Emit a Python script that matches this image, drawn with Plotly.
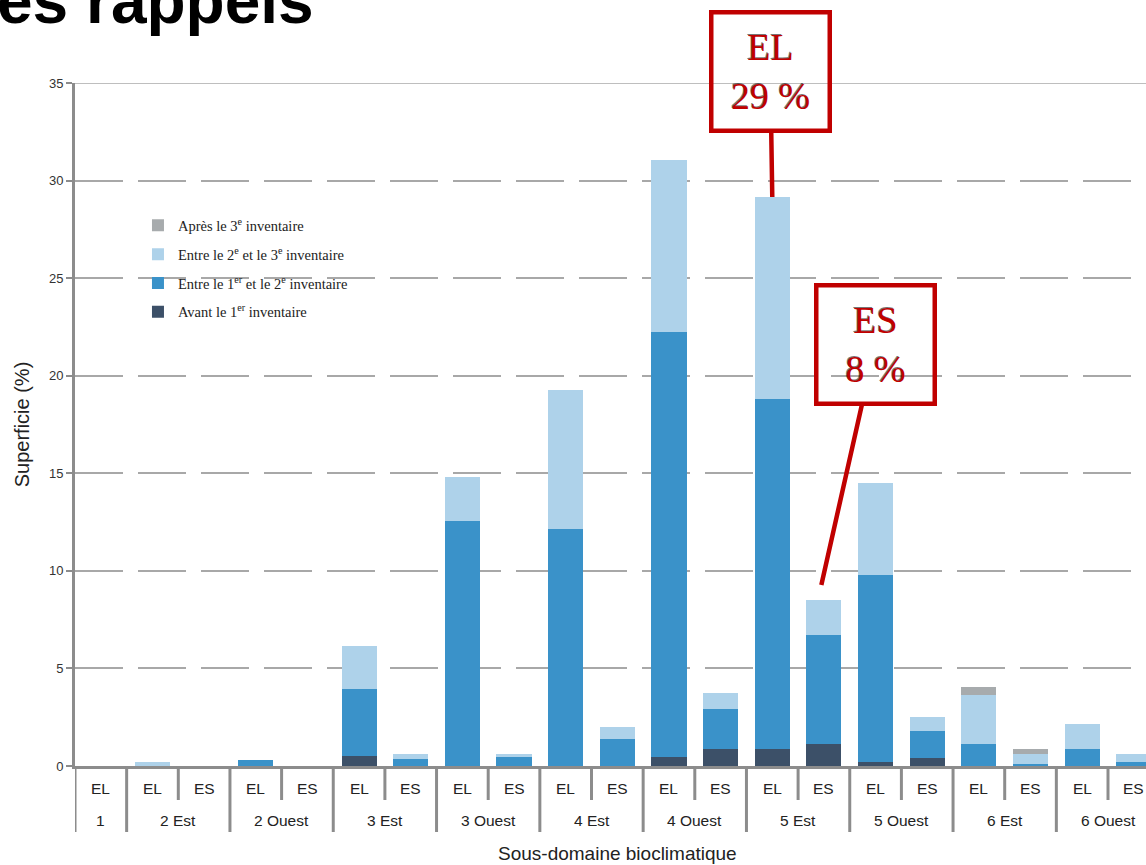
import plotly.graph_objects as go

# ---- data ----
groups = ["1", "2 Est", "2 Ouest", "3 Est", "3 Ouest", "4 Est",
          "4 Ouest", "5 Est", "5 Ouest", "6 Est", "6 Ouest"]
group_subs = [["EL"], ["EL", "ES"], ["EL", "ES"], ["EL", "ES"], ["EL", "ES"],
              ["EL", "ES"], ["EL", "ES"], ["EL", "ES"], ["EL", "ES"],
              ["EL", "ES"], ["EL", "ES"]]

series_names = [
    "Avant le 1<sup>er</sup> inventaire",
    "Entre le 1<sup>er</sup> et le 2<sup>e</sup> inventaire",
    "Entre le 2<sup>e</sup> et le 3<sup>e</sup> inventaire",
    "Après le 3<sup>e</sup> inventaire",
]
avant_1er = [0, 0, 0, 0, 0, 0.50, 0, 0, 0, 0, 0, 0.48, 0.85, 0.85, 1.14, 0.18, 0.41, 0, 0, 0, 0]
entre_1_2 = [0, 0, 0, 0.30, 0, 3.43, 0.35, 12.55, 0.45, 12.15, 1.38, 21.76, 2.05, 17.96, 5.57, 9.61, 1.40, 1.13, 0.10, 0.85, 0.20]
entre_2_3 = [0, 0.20, 0, 0, 0, 2.24, 0.28, 2.26, 0.18, 7.12, 0.64, 8.81, 0.82, 10.35, 1.79, 4.71, 0.72, 2.51, 0.53, 1.30, 0.41]
apres_3e = [0, 0, 0, 0, 0, 0, 0, 0, 0, 0, 0, 0, 0, 0, 0, 0, 0, 0.42, 0.22, 0, 0]
series_values = [avant_1er, entre_1_2, entre_2_3, apres_3e]
series_colors = ["#3c5068", "#3a92c9", "#aed2ea", "#a7abad"]

callouts = [("5 Est", "EL", "EL<br>29 %"), ("5 Est", "ES", "ES<br>8 %")]

# ---- build category positions ----
sub_labels, group_index = [], []
for gi, subs in enumerate(group_subs):
    for s in subs:
        sub_labels.append(s)
        group_index.append(gi)
xpos = list(range(len(sub_labels)))
totals = [sum(v[i] for v in series_values) for i in xpos]

fig = go.Figure()
n_series = len(series_names)
for k, (name, vals, col) in enumerate(zip(series_names, series_values, series_colors)):
    fig.add_trace(go.Bar(x=xpos, y=vals, name=name, marker_color=col,
                         marker_line_width=0, width=0.68, legendgroup=name,
                         legendrank=n_series - k))

AXIS_GREY = "#8c8c8c"
TXT = "#222222"
slot_px = 51.65
plot_w = 1071
plot_h = 683
fig.update_layout(
    width=1146, height=865,
    margin=dict(l=75, r=0, t=83, b=99),
    plot_bgcolor="white", paper_bgcolor="white",
    barmode="stack", bargap=0,
    showlegend=True,
    legend=dict(x=0.0588, y=0.815, xanchor="left", yanchor="top",
                traceorder="grouped", tracegroupgap=7,
                font=dict(family="Liberation Serif", size=14.5, color=TXT),
                bgcolor="rgba(0,0,0,0)"),
    xaxis=dict(range=[-0.5, -0.5 + plot_w / slot_px], showticklabels=False,
               ticks="", showgrid=False, zeroline=False,
               showline=True, linecolor=AXIS_GREY, linewidth=3),
    yaxis=dict(range=[0, 35], dtick=5, tick0=0, showline=True,
               linecolor=AXIS_GREY, linewidth=3, ticks="outside", ticklen=6,
               tickwidth=2, tickcolor=AXIS_GREY, showgrid=True,
               gridcolor="#a8a8a8", gridwidth=1.5, griddash="48px,15px",
               zeroline=False,
               tickfont=dict(family="Liberation Sans", size=13, color="#333333"),
               title=dict(text="Superficie (%)", standoff=14,
                          font=dict(family="Liberation Sans", size=20, color=TXT))),
)

# top solid line at axis max
fig.add_shape(type="line", xref="paper", yref="y", x0=0, x1=1, y0=35, y1=35,
              line=dict(color="#a8a8a8", width=1.5))

# ---- two-level category axis (dividers + labels) ----
long_y = -66 / plot_h
short_y = -34 / plot_h
row1_y = -22 / plot_h
row2_y = -54 / plot_h
title_y = -87 / plot_h

line_style = dict(color=AXIS_GREY, width=3)
start = 0
for gi, subs in enumerate(group_subs):
    fig.add_shape(type="line", xref="x", yref="paper", x0=start - 0.5, x1=start - 0.5,
                  y0=0, y1=long_y, line=line_style)
    for k in range(1, len(subs)):
        fig.add_shape(type="line", xref="x", yref="paper",
                      x0=start + k - 0.5, x1=start + k - 0.5,
                      y0=0, y1=short_y, line=line_style)
    fig.add_annotation(x=start + (len(subs) - 1) / 2, y=row2_y, xref="x", yref="paper",
                       text=groups[gi], showarrow=False, yanchor="middle",
                       font=dict(family="Liberation Sans", size=15.5, color=TXT))
    start += len(subs)
fig.add_shape(type="line", xref="x", yref="paper", x0=start - 0.5, x1=start - 0.5,
              y0=0, y1=long_y, line=line_style)

for i, s in zip(xpos, sub_labels):
    fig.add_annotation(x=i, y=row1_y, xref="x", yref="paper", text=s, showarrow=False,
                       yanchor="middle",
                       font=dict(family="Liberation Sans", size=15.5, color=TXT))

fig.add_annotation(x=(len(xpos) - 1) / 2, y=title_y, xref="x", yref="paper",
                   text="Sous-domaine bioclimatique", showarrow=False, yanchor="middle",
                   font=dict(family="Liberation Sans", size=19, color=TXT))

# ---- callouts ----
red = "#c00000"
pos_of = {}
start = 0
for gi, subs in enumerate(group_subs):
    for k, s in enumerate(subs):
        pos_of[(groups[gi], s)] = start + k
    start += len(subs)

callout_font = dict(family="Liberation Serif", size=38, color=red,
                    shadow="-1px -1px 0px rgba(0,0,0,0.55)")
i_el = pos_of[callouts[0][:2]]
fig.add_annotation(x=i_el, y=totals[i_el], xref="x", yref="y", text=callouts[0][2],
                   showarrow=True, arrowhead=0, arrowwidth=4.5, arrowcolor=red,
                   ax=-2, ay=-125, standoff=0, font=callout_font,
                   bordercolor=red, borderwidth=4.5, borderpad=0, width=114, height=114)
i_es = pos_of[callouts[1][:2]]
fig.add_annotation(x=i_es - 0.05, y=totals[i_es] + 0.78, xref="x", yref="y",
                   text=callouts[1][2],
                   showarrow=True, arrowhead=0, arrowwidth=4.5, arrowcolor=red,
                   ax=54, ay=-240, standoff=0, font=callout_font,
                   bordercolor=red, borderwidth=4.5, borderpad=0, width=114, height=114)

# cropped slide title
fig.add_annotation(x=-0.0747, y=1.065, xref="paper", yref="paper", xanchor="left",
                   yanchor="bottom", text="<b>es rappels</b>", showarrow=False,
                   font=dict(family="Liberation Sans", size=64, color="black"))

fig.write_html("out.html", config={"displayModeBar": False},
               post_script="document.body.style.margin='0';")
